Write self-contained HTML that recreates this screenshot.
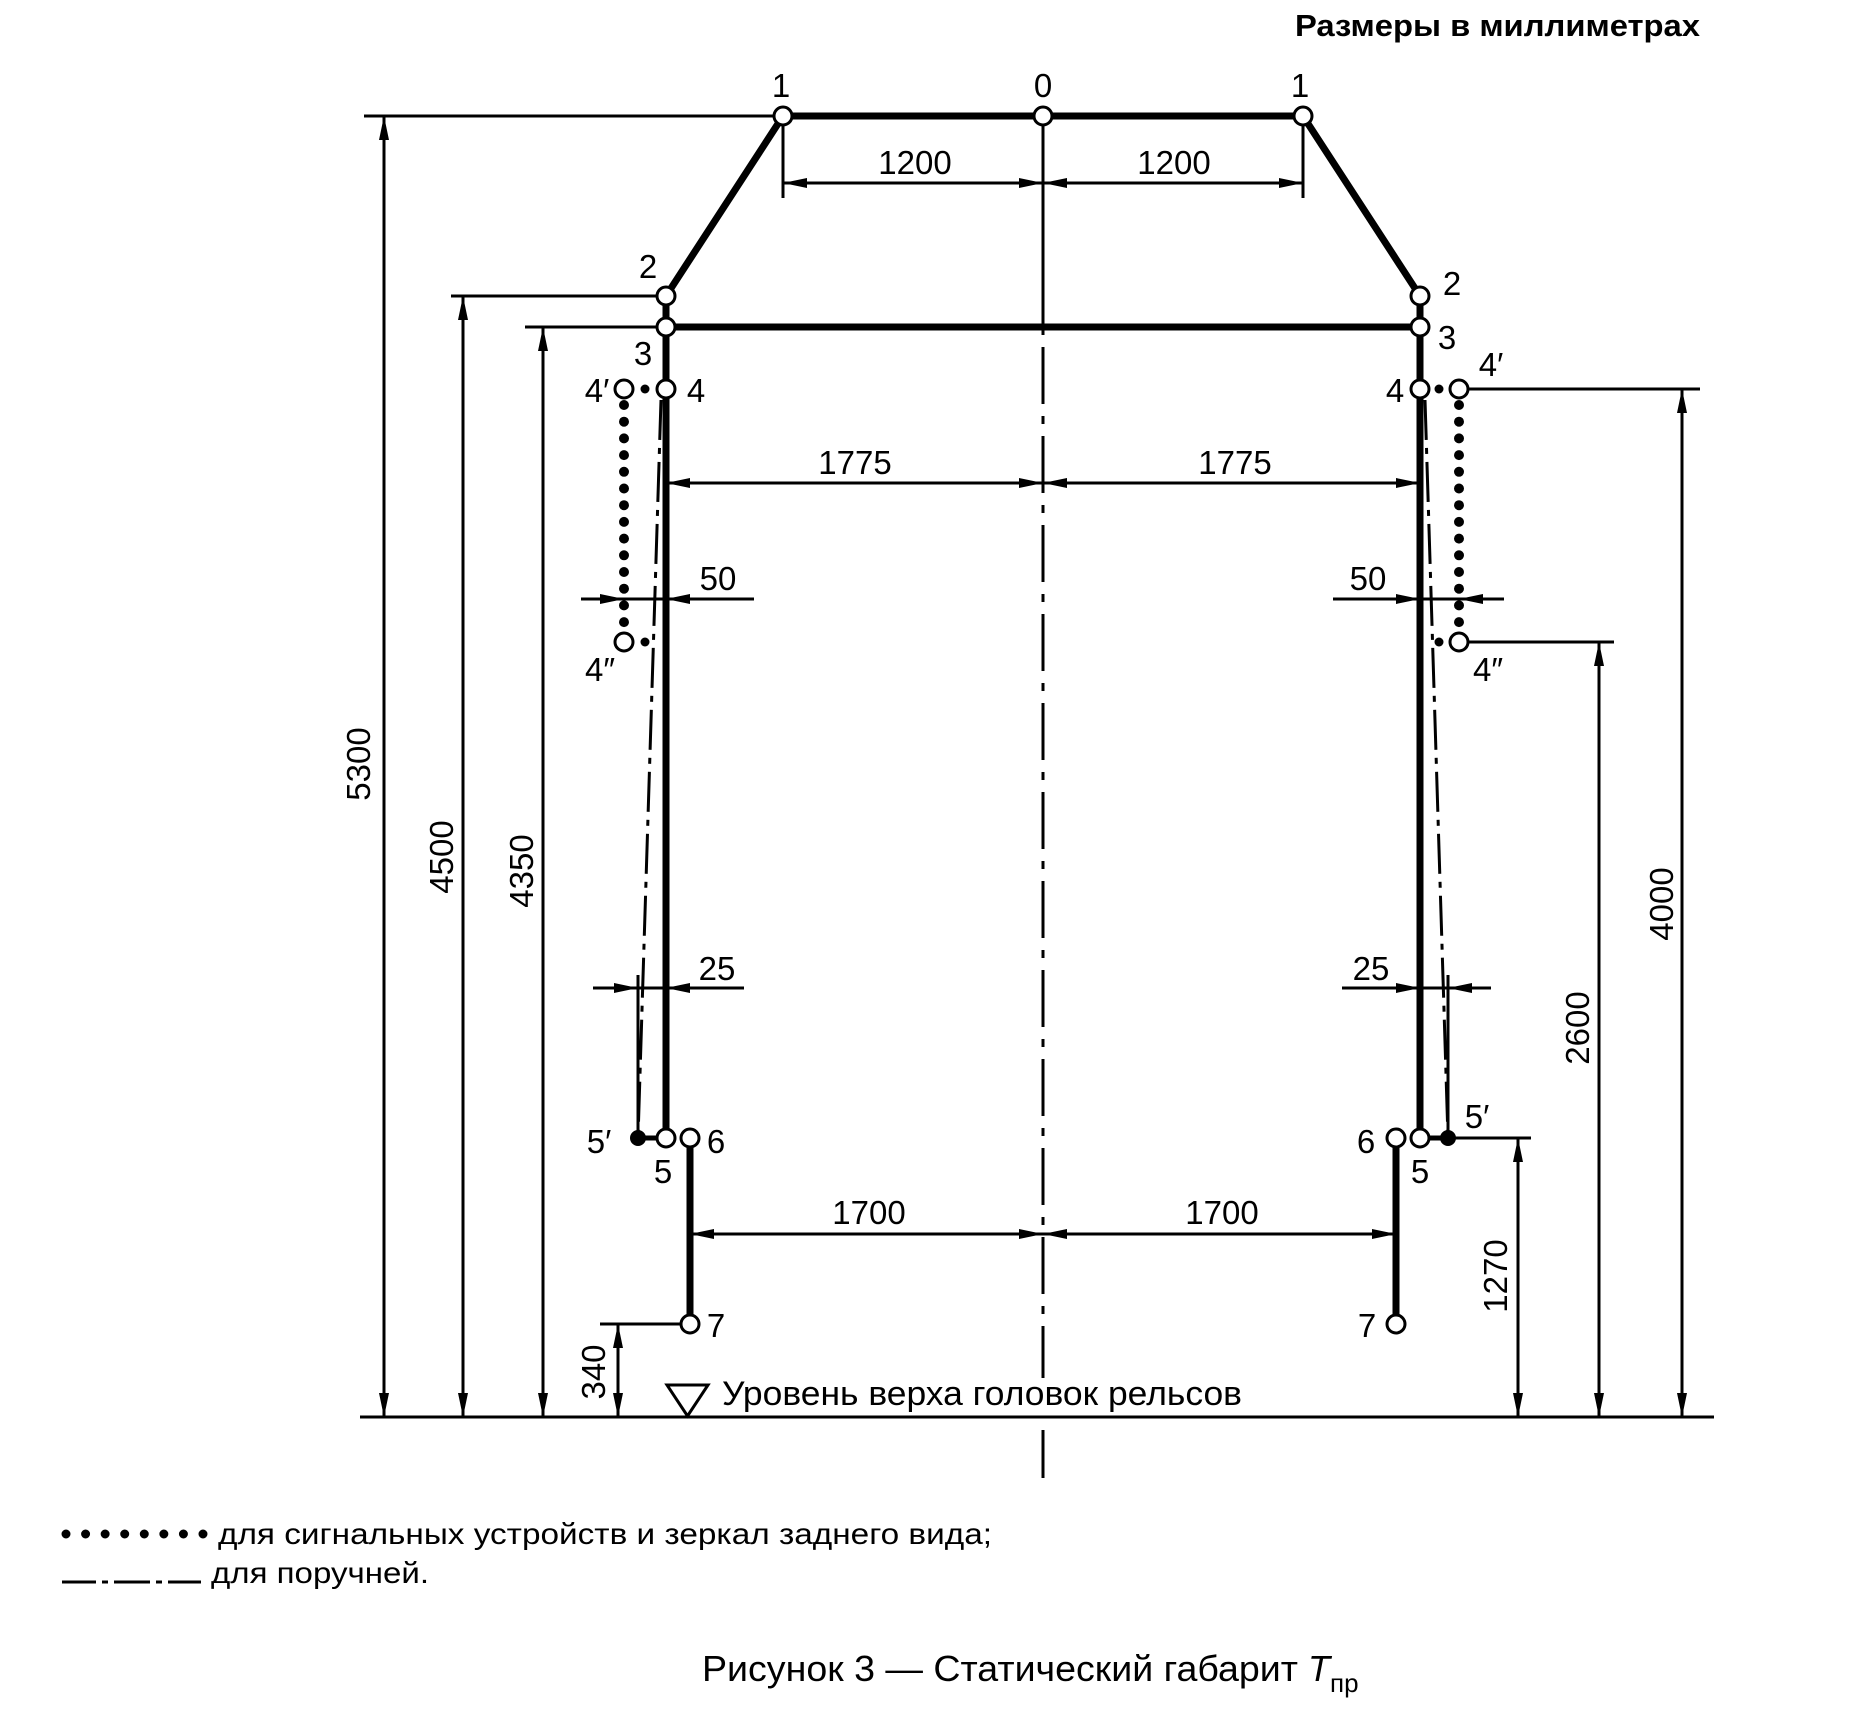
<!DOCTYPE html>
<html><head><meta charset="utf-8"><style>
html,body{margin:0;padding:0;background:#fff;}
svg{display:block;}
text{font-family:"Liberation Sans",sans-serif;fill:#000;}
.d{font-size:33px;}
.p{font-size:33px;}
</style></head><body>
<svg width="1868" height="1713" viewBox="0 0 1868 1713" xmlns="http://www.w3.org/2000/svg">
<defs>
<marker id="a" viewBox="0 0 24 10" refX="24" refY="5" markerWidth="24" markerHeight="10" markerUnits="userSpaceOnUse" orient="auto-start-reverse"><path d="M0,0 L24,5 L0,10 z" fill="#000"/></marker>
</defs>

<text x="1700" y="36" text-anchor="end" font-size="31" font-weight="bold" textLength="405" lengthAdjust="spacingAndGlyphs">Размеры в миллиметрах</text>

<line x1="1043" y1="116" x2="1043" y2="327" stroke="#000" stroke-width="3"/>
<line x1="1043" y1="327" x2="1043" y2="1378" stroke="#000" stroke-width="3" stroke-dasharray="8 12 57 12"/>
<line x1="1043" y1="1430" x2="1043" y2="1478" stroke="#000" stroke-width="3"/>

<line x1="360" y1="1417" x2="1714" y2="1417" stroke="#000" stroke-width="3"/>

<g stroke="#000" stroke-width="7" fill="none" stroke-linejoin="round">
<polyline points="666,1138 666,389 666,296 783,116 1303,116 1420,296 1420,1138"/>
<line x1="666" y1="327" x2="1420" y2="327"/>
<line x1="690" y1="1138" x2="690" y2="1324"/>
<line x1="1396" y1="1138" x2="1396" y2="1324"/>
<line x1="638" y1="1138" x2="666" y2="1138" stroke-width="5"/>
<line x1="1420" y1="1138" x2="1448" y2="1138" stroke-width="5"/>
</g>

<g stroke="#000" stroke-width="3" fill="none" stroke-dasharray="40 8 6 8">
<line x1="661" y1="400" x2="638" y2="1138"/>
<line x1="1425" y1="400" x2="1448" y2="1138"/>
</g>
<line x1="638" y1="975" x2="638" y2="1138" stroke="#000" stroke-width="3"/>
<line x1="1448" y1="975" x2="1448" y2="1138" stroke="#000" stroke-width="3"/>

<g stroke="#000" stroke-width="10" stroke-linecap="round" stroke-dasharray="0 16.7">
<line x1="624" y1="405" x2="624" y2="628"/>
<line x1="1459" y1="405" x2="1459" y2="628"/>
</g>
<g fill="#000">
<circle cx="645" cy="389" r="4.5"/><circle cx="1439" cy="389" r="4.5"/>
<circle cx="645" cy="642" r="4.5"/><circle cx="1439" cy="642" r="4.5"/>
<circle cx="638" cy="1138" r="8"/><circle cx="1448" cy="1138" r="8"/>
</g>

<g stroke="#000" stroke-width="3">
<line x1="364" y1="116" x2="783" y2="116"/>
<line x1="451" y1="296" x2="666" y2="296"/>
<line x1="525" y1="327" x2="666" y2="327"/>
<line x1="600" y1="1324" x2="690" y2="1324"/>
<line x1="1459" y1="389" x2="1700" y2="389"/>
<line x1="1459" y1="642" x2="1614" y2="642"/>
<line x1="1448" y1="1138" x2="1531" y2="1138"/>
<line x1="783" y1="116" x2="783" y2="198"/>
<line x1="1303" y1="116" x2="1303" y2="198"/>
</g>

<g stroke="#000" stroke-width="3" marker-start="url(#a)" marker-end="url(#a)">
<line x1="384" y1="116" x2="384" y2="1417"/>
<line x1="463" y1="296" x2="463" y2="1417"/>
<line x1="543" y1="327" x2="543" y2="1417"/>
<line x1="618" y1="1324" x2="618" y2="1417"/>
<line x1="1682" y1="389" x2="1682" y2="1417"/>
<line x1="1599" y1="642" x2="1599" y2="1417"/>
<line x1="1518" y1="1138" x2="1518" y2="1417"/>
<line x1="783" y1="183" x2="1043" y2="183"/>
<line x1="1043" y1="183" x2="1303" y2="183"/>
<line x1="666" y1="483" x2="1043" y2="483"/>
<line x1="1043" y1="483" x2="1420" y2="483"/>
<line x1="690" y1="1234" x2="1043" y2="1234"/>
<line x1="1043" y1="1234" x2="1396" y2="1234"/>
</g>
<g stroke="#000" stroke-width="3" marker-end="url(#a)">
<line x1="581" y1="599" x2="624" y2="599"/>
<line x1="754" y1="599" x2="666" y2="599"/>
<line x1="1333" y1="599" x2="1420" y2="599"/>
<line x1="1504" y1="599" x2="1459" y2="599"/>
<line x1="593" y1="988" x2="638" y2="988"/>
<line x1="744" y1="988" x2="666" y2="988"/>
<line x1="1342" y1="988" x2="1420" y2="988"/>
<line x1="1491" y1="988" x2="1448" y2="988"/>
</g>
<g stroke="#000" stroke-width="3">
<line x1="624" y1="599" x2="666" y2="599"/>
<line x1="1420" y1="599" x2="1459" y2="599"/>
<line x1="638" y1="988" x2="666" y2="988"/>
<line x1="1420" y1="988" x2="1448" y2="988"/>
</g>

<g fill="#fff" stroke="#000" stroke-width="3">
<circle cx="783" cy="116" r="9"/><circle cx="1043" cy="116" r="9"/><circle cx="1303" cy="116" r="9"/>
<circle cx="666" cy="296" r="9"/><circle cx="1420" cy="296" r="9"/>
<circle cx="666" cy="327" r="9"/><circle cx="1420" cy="327" r="9"/>
<circle cx="666" cy="389" r="9"/><circle cx="1420" cy="389" r="9"/>
<circle cx="624" cy="389" r="9"/><circle cx="1459" cy="389" r="9"/>
<circle cx="624" cy="642" r="9"/><circle cx="1459" cy="642" r="9"/>
<circle cx="666" cy="1138" r="9"/><circle cx="1420" cy="1138" r="9"/>
<circle cx="690" cy="1138" r="9"/><circle cx="1396" cy="1138" r="9"/>
<circle cx="690" cy="1324" r="9"/><circle cx="1396" cy="1324" r="9"/>
</g>

<polygon points="667,1385 708,1385 687.5,1416" fill="none" stroke="#000" stroke-width="3"/>
<text x="722" y="1405" font-size="34" textLength="520" lengthAdjust="spacingAndGlyphs">Уровень верха головок рельсов</text>

<g class="d" text-anchor="middle">
<text x="915" y="174">1200</text>
<text x="1174" y="174">1200</text>
<text x="855" y="474">1775</text>
<text x="1235" y="474">1775</text>
<text x="718" y="590">50</text>
<text x="1368" y="590">50</text>
<text x="717" y="980">25</text>
<text x="1371" y="980">25</text>
<text x="869" y="1224">1700</text>
<text x="1222" y="1224">1700</text>
<text transform="translate(370,764) rotate(-90)">5300</text>
<text transform="translate(453,857) rotate(-90)">4500</text>
<text transform="translate(533,871) rotate(-90)">4350</text>
<text transform="translate(605,1372) rotate(-90)">340</text>
<text transform="translate(1673,904) rotate(-90)">4000</text>
<text transform="translate(1589,1028) rotate(-90)">2600</text>
<text transform="translate(1507,1276) rotate(-90)">1270</text>
</g>

<g class="p" text-anchor="middle">
<text x="781" y="97">1</text>
<text x="1043" y="97">0</text>
<text x="1300" y="97">1</text>
<text x="648" y="278">2</text>
<text x="1452" y="295">2</text>
<text x="643" y="365">3</text>
<text x="1447" y="349">3</text>
<text x="597" y="402">4′</text>
<text x="696" y="402">4</text>
<text x="1395" y="402">4</text>
<text x="1491" y="376">4′</text>
<text x="600" y="681">4″</text>
<text x="1488" y="681">4″</text>
<text x="599" y="1153">5′</text>
<text x="663" y="1183">5</text>
<text x="716" y="1153">6</text>
<text x="1366" y="1153">6</text>
<text x="1420" y="1183">5</text>
<text x="1477" y="1128">5′</text>
<text x="716" y="1337">7</text>
<text x="1367" y="1337">7</text>
</g>

<g stroke="#000" stroke-width="9" stroke-linecap="round" stroke-dasharray="0 19.57">
<line x1="66" y1="1534" x2="203" y2="1534"/>
</g>
<text x="218" y="1544" font-size="30" textLength="774" lengthAdjust="spacingAndGlyphs">для сигнальных устройств и зеркал заднего вида;</text>
<g stroke="#000" stroke-width="3">
<line x1="62" y1="1582" x2="96" y2="1582"/>
<line x1="102" y1="1582" x2="108" y2="1582"/>
<line x1="114" y1="1582" x2="150" y2="1582"/>
<line x1="156" y1="1582" x2="162" y2="1582"/>
<line x1="168" y1="1582" x2="201" y2="1582"/>
</g>
<text x="211" y="1583" font-size="30" textLength="218" lengthAdjust="spacingAndGlyphs">для поручней.</text>

<text x="702" y="1681" font-size="36" textLength="596" lengthAdjust="spacingAndGlyphs">Рисунок 3 — Статический габарит</text>
<text x="1308" y="1681" font-size="36" font-style="italic">T</text>
<text x="1330" y="1692" font-size="26">пр</text>
</svg>
</body></html>
